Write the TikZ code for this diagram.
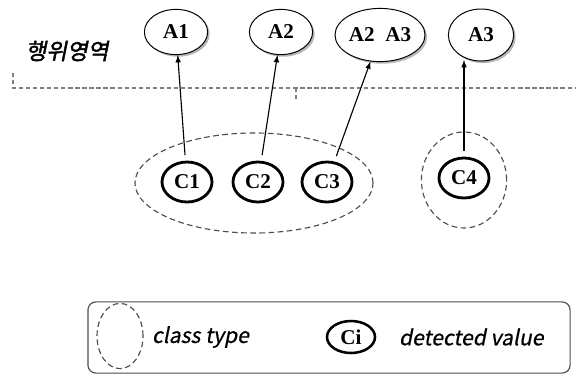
\documentclass[tikz,border=0pt]{standalone}
\usepackage{fontspec}
\setmainfont{Liberation Serif}
\newfontfamily\kofont[FakeSlant=0.2,FakeBold=0.6]{Noto Sans CJK KR}
\newfontfamily\kofontb[FakeSlant=0.2,FakeBold=2]{Noto Sans CJK KR}
\usetikzlibrary{shapes.geometric,shadows}

\tikzset{
  act/.style={ellipse, draw, line width=0.7pt, fill=white, inner sep=0pt,
    font=\fontsize{15}{17}\selectfont\bfseries,
    drop shadow={shadow xshift=1.5pt, shadow yshift=-1.5pt, fill=gray!70, opacity=0.8}},
  val/.style={ellipse, draw, line width=2pt, inner sep=0pt,
    minimum width=1.25cm, minimum height=1cm,
    font=\fontsize{15}{17}\selectfont\bfseries},
  cls/.style={ellipse, draw=gray!60!black, line width=0.8pt, dash pattern=on 4pt off 2.5pt, inner sep=0pt},
  lbl/.style={font=\kofont\fontsize{15}{17}\selectfont},
}

\begin{document}
\begin{tikzpicture}[x=0.025cm, y=-0.025cm]
  \useasboundingbox (0,0) rectangle (576,376);

  \node[font=\kofontb\fontsize{16}{18}\selectfont] (area) at (67,51) {행위영역};

  \node[act, minimum width=1.58cm, minimum height=1.13cm] (a1) at (176,32) {A1};
  \node[act, minimum width=1.58cm, minimum height=1.13cm] (a2) at (281,32) {A2};
  \node[act, minimum width=2.25cm, minimum height=1.33cm] (a23) at (380,35) {A2\ \ A3};
  \node[act, minimum width=1.63cm, minimum height=1.3cm] (a3) at (481,35) {A3};

  % domain border
  \draw[gray, densely dashed, line width=1.2pt] (13,73) -- (13,88) -- (575,88);
  \draw[gray, densely dashed, line width=1.2pt] (296,88) -- (296,100);

  \node[cls, minimum width=5.95cm, minimum height=2.5cm] (g1) at (254,183) {};
  \node[cls, minimum width=2.13cm, minimum height=2.4cm] (g2) at (464,180) {};

  \node[val] (c1) at (187,182) {C1};
  \node[val] (c2) at (258,182) {C2};
  \node[val] (c3) at (327,182) {C3};
  \node[val] (c4) at (464,178) {C4};

  \coordinate (t4) at (464,60);

  \draw[->, >=latex, line width=0.8pt, shorten <=4pt] (c1) -- (a1);
  \draw[->, >=latex, line width=0.8pt, shorten <=4pt] (c2) -- (a2);
  \draw[->, >=latex, line width=0.8pt, shorten <=4pt] (c3) -- (a23);
  \draw[->, >=latex, line width=0.8pt, shorten <=4pt] (c4) -- (t4);

  % legend
  \node[draw=gray!60!black, line width=0.8pt, rounded corners=0.2cm, minimum width=12.05cm, minimum height=1.78cm] (legend) at (329,337.5) {};
  \node[cls, minimum width=1.15cm, minimum height=1.63cm] (lcls) at (120,336) {};
  \node[lbl, anchor=west] (lclstxt) at (147,337) {class type};
  \node[val, line width=1.8pt, minimum width=1.2cm, minimum height=0.8cm] (lval) at (351,337) {Ci};
  \node[lbl, anchor=west] (lvaltxt) at (394,337) {detected value};
\end{tikzpicture}
\end{document}
